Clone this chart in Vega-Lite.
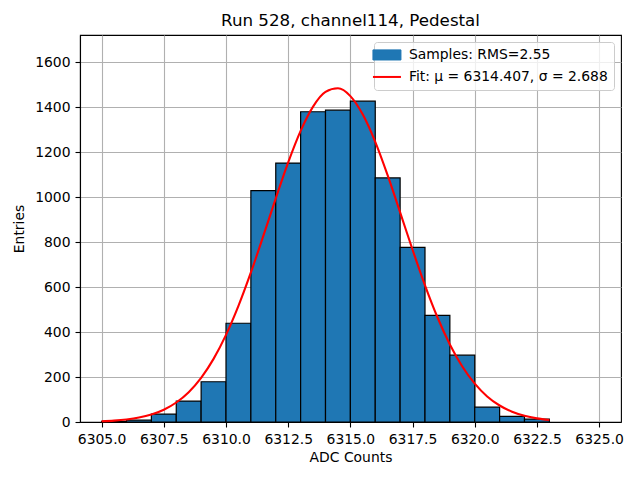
{
  "$schema": "https://vega.github.io/schema/vega-lite/v6.json",
  "autosize": {"type": "none"},
  "width": 541,
  "height": 387,
  "padding": {"left": 80, "top": 35, "right": 19, "bottom": 58},
  "background": "white",
  "config": {
    "view": {"stroke": "black", "strokeWidth": 1.1},
    "font": "DejaVu Sans",
    "axis": {
      "labelFont": "DejaVu Sans", "labelFontSize": 13.9, "labelColor": "black",
      "titleFont": "DejaVu Sans", "titleFontSize": 13.9, "titleFontWeight": "normal", "titleColor": "black",
      "domainColor": "black", "domainWidth": 1.1, "tickColor": "black", "tickWidth": 1.1, "tickSize": 5,
      "grid": true, "gridColor": "#b0b0b0", "gridWidth": 1.1, "zindex": 1, "labelPadding": 5
    },
    "legend": {
      "labelFont": "DejaVu Sans", "labelFontSize": 13.9, "labelColor": "black", "labelLimit": 400,
      "symbolSize": 784, "labelOffset": 15, "rowPadding": 7, "padding": 6
    }
  },
  "title": {
    "text": "Run 528, channel114, Pedestal",
    "font": "DejaVu Sans", "fontSize": 16.7, "fontWeight": "normal", "color": "black", "offset": 5
  },
  "datasets": {
    "bars": [
      {"lo": 6305, "hi": 6306, "count": 3},
      {"lo": 6306, "hi": 6307, "count": 8},
      {"lo": 6307, "hi": 6308, "count": 35},
      {"lo": 6308, "hi": 6309, "count": 93},
      {"lo": 6309, "hi": 6310, "count": 179},
      {"lo": 6310, "hi": 6311, "count": 439},
      {"lo": 6311, "hi": 6312, "count": 1028},
      {"lo": 6312, "hi": 6313, "count": 1151},
      {"lo": 6313, "hi": 6314, "count": 1379},
      {"lo": 6314, "hi": 6315, "count": 1386},
      {"lo": 6315, "hi": 6316, "count": 1426},
      {"lo": 6316, "hi": 6317, "count": 1085},
      {"lo": 6317, "hi": 6318, "count": 776},
      {"lo": 6318, "hi": 6319, "count": 474},
      {"lo": 6319, "hi": 6320, "count": 297},
      {"lo": 6320, "hi": 6321, "count": 66},
      {"lo": 6321, "hi": 6322, "count": 25},
      {"lo": 6322, "hi": 6323, "count": 13}
    ],
    "fit": [
      {"x": 6305, "y": 3.3}, {"x": 6305.5, "y": 6.1}, {"x": 6306, "y": 11.2}, {"x": 6306.5, "y": 19.6},
      {"x": 6307, "y": 33.3}, {"x": 6307.5, "y": 54.6}, {"x": 6308, "y": 86.7}, {"x": 6308.5, "y": 132.7},
      {"x": 6309, "y": 196.2}, {"x": 6309.5, "y": 280.5}, {"x": 6310, "y": 387.0}, {"x": 6310.5, "y": 516.0},
      {"x": 6311, "y": 664.7}, {"x": 6311.5, "y": 826.9}, {"x": 6312, "y": 993.8}, {"x": 6312.5, "y": 1153.8},
      {"x": 6313, "y": 1294.1}, {"x": 6313.5, "y": 1401.9}, {"x": 6314, "y": 1467.1}, {"x": 6314.5, "y": 1483.1},
      {"x": 6315, "y": 1448.4}, {"x": 6315.5, "y": 1366.3}, {"x": 6316, "y": 1245.1}, {"x": 6316.5, "y": 1095.9},
      {"x": 6317, "y": 931.9}, {"x": 6317.5, "y": 765.4}, {"x": 6318, "y": 607.4}, {"x": 6318.5, "y": 465.5},
      {"x": 6319, "y": 344.7}, {"x": 6319.5, "y": 246.5}, {"x": 6320, "y": 170.4}, {"x": 6320.5, "y": 113.7},
      {"x": 6321, "y": 73.3}, {"x": 6321.5, "y": 45.6}, {"x": 6322, "y": 27.5}, {"x": 6322.5, "y": 16.0},
      {"x": 6323, "y": 9.0}
    ]
  },
  "layer": [
    {
      "data": {"name": "bars"},
      "mark": {"type": "bar", "stroke": "black", "strokeWidth": 1.2, "opacity": 1, "orient": "vertical"},
      "encoding": {
        "x": {
          "field": "lo", "type": "quantitative", "title": "ADC Counts",
          "scale": {"domain": [6304.13, 6325.88], "nice": false, "zero": false, "padding": 0},
          "axis": {"values": [6305, 6307.5, 6310, 6312.5, 6315, 6317.5, 6320, 6322.5, 6325], "format": ".1f", "titlePadding": 5}
        },
        "x2": {"field": "hi"},
        "y": {
          "field": "count", "type": "quantitative", "title": "Entries",
          "scale": {"domain": [0, 1720], "nice": false, "padding": 0},
          "axis": {"values": [0, 200, 400, 600, 800, 1000, 1200, 1400, 1600], "format": "d", "titlePadding": 8}
        },
        "y2": {"datum": 0},
        "color": {
          "datum": "Samples: RMS=2.55",
          "scale": {"domain": ["Samples: RMS=2.55", "Fit: μ = 6314.407, σ = 2.688"], "range": ["#1f77b4", "#ff0000"]},
          "legend": {
            "title": null, "orient": "top-right", "offset": 7, "labelOffset": 15, "symbolSize": 784,
            "strokeColor": "#cccccc", "fillColor": "rgba(255,255,255,0.8)", "cornerRadius": 3,
            "encode": {
              "symbols": {
                "update": {
                  "shape": {"signal": "datum.index === 0 ? 'M-1,-0.36H1V0.36H-1Z' : 'M-1,0H1'"},
                  "fill": {"signal": "datum.index === 0 ? '#1f77b4' : 'transparent'"},
                  "stroke": {"signal": "datum.index === 0 ? '#000000' : '#ff0000'"},
                  "strokeWidth": {"signal": "datum.index === 0 ? 1 : 2"}
                }
              }
            }
          }
        }
      }
    },
    {
      "data": {"name": "fit"},
      "mark": {"type": "line", "strokeWidth": 2.1, "interpolate": "monotone"},
      "encoding": {
        "x": {"field": "x", "type": "quantitative"},
        "y": {"field": "y", "type": "quantitative"},
        "color": {
          "datum": "Fit: μ = 6314.407, σ = 2.688",
          "legend": {
            "title": null, "orient": "top-right", "offset": 7, "labelOffset": 15, "symbolSize": 784,
            "strokeColor": "#cccccc", "fillColor": "rgba(255,255,255,0.8)", "cornerRadius": 3,
            "encode": {
              "symbols": {
                "update": {
                  "shape": {"signal": "datum.index === 0 ? 'M-1,-0.36H1V0.36H-1Z' : 'M-1,0H1'"},
                  "fill": {"signal": "datum.index === 0 ? '#1f77b4' : 'transparent'"},
                  "stroke": {"signal": "datum.index === 0 ? '#000000' : '#ff0000'"},
                  "strokeWidth": {"signal": "datum.index === 0 ? 1 : 2"}
                }
              }
            }
          }
        }
      }
    }
  ]
}
